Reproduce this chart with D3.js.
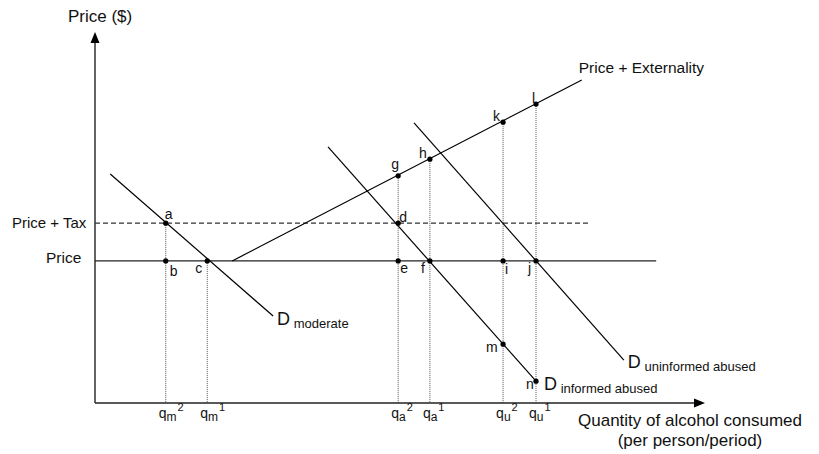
<!DOCTYPE html>
<html>
<head>
<meta charset="utf-8">
<script src="https://cdn.jsdelivr.net/npm/d3@7"></script>
<style>
body { margin:0; background:#fff; }
text { font-family: "Liberation Sans", Arial, sans-serif; fill:#111; }
</style>
</head>
<body>
<svg id="chart"></svg>
<script>
// price levels (arbitrary units)
var priceLevel = 3.84
var taxLevel = 4.86

// lines: [q, p] end points
var priceLine = [[0, 3.84], [9.2, 3.84]]
var taxLine = [[0, 4.86], [8.11, 4.86]]
var externalityLine = [[2.25, 3.84], [7.98, 8.73]]
var dModerate = [[0.25, 6.19], [2.92, 2.35]]
var dInformed = [[3.82, 6.92], [7.23, 0.59]]
var dUninformed = [[5.23, 7.57], [8.67, 1.16]]

// labelled points
var pointNames = ["a","b","c","d","e","f","g","h","i","j","k","l","m","n"]
var pointQ =     [1.16,1.16,1.84,4.97,4.97,5.49,4.97,5.49,6.69,7.23,6.69,7.23,6.69,7.23]
var pointP =     [4.86,3.84,3.84,4.86,3.84,3.84,6.14,6.59,3.84,3.84,7.59,8.08,1.59,0.59]

// dotted drop lines: q and top p
var dropQ = [1.16, 1.84, 4.97, 5.49, 6.69, 7.23]
var dropTop = [4.86, 3.84, 6.14, 6.59, 7.59, 8.08]

// quantity tick labels
var tickQ = [1.16, 1.84, 4.97, 5.49, 6.69, 7.23]
var tickSub = ["m","m","a","a","u","u"]
var tickSup = ["2","1","2","1","2","1"]

var svgw = 819
var svgh = 454

var svg = d3.select("#chart")
    .attr("width", svgw)
    .attr("height", svgh)

var xscale = d3.scaleLinear().domain([0,10]).range([95,705])
var yscale = d3.scaleLinear().domain([0,10]).range([403,33])

var line = d3.line()
    .x(function(d){return xscale(d[0])})
    .y(function(d){return yscale(d[1])})

// dotted verticals
svg.append("g").selectAll("line")
    .data(dropQ)
    .enter()
    .append("line")
    .attr("x1", function(d){return xscale(d)})
    .attr("x2", function(d){return xscale(d)})
    .attr("y1", function(d,i){return yscale(dropTop[i])})
    .attr("y2", yscale(0))
    .attr("stroke", "#555")
    .attr("stroke-width", 1)
    .attr("stroke-dasharray", "1,1")

// axes
var axisColor = "#222"
svg.append("line")
    .attr("x1", xscale(0)).attr("x2", xscale(0))
    .attr("y1", yscale(0)).attr("y2", yscale(10) + 8)
    .attr("stroke", axisColor).attr("stroke-width", 1.4)
svg.append("line")
    .attr("x1", xscale(0)).attr("x2", xscale(10) - 8)
    .attr("y1", yscale(0)).attr("y2", yscale(0))
    .attr("stroke", axisColor).attr("stroke-width", 1.4)
// arrow heads
var yt = [xscale(0), yscale(10)]
svg.append("path")
    .attr("d", "M" + yt[0] + "," + (yt[1] - 1) + "L" + (yt[0] - 4.5) + "," + (yt[1] + 10) + "L" + (yt[0] + 4.5) + "," + (yt[1] + 10) + "Z")
    .attr("fill", "#000")
var xt = [xscale(10), yscale(0)]
svg.append("path")
    .attr("d", "M" + xt[0] + "," + xt[1] + "L" + (xt[0] - 11) + "," + (xt[1] - 4.5) + "L" + (xt[0] - 11) + "," + (xt[1] + 4.5) + "Z")
    .attr("fill", "#000")

// price, tax lines
svg.append("path").attr("d", line(priceLine))
    .attr("stroke", "#222").attr("stroke-width", 1.3).attr("fill", "none")
svg.append("path").attr("d", line(taxLine))
    .attr("stroke", "#333").attr("stroke-width", 1.2).attr("fill", "none")
    .attr("stroke-dasharray", "5,3")

// other lines
var curves = [externalityLine, dModerate, dInformed, dUninformed]
svg.append("g").selectAll("path")
    .data(curves)
    .enter()
    .append("path")
    .attr("d", function(d){return line(d)})
    .attr("stroke", "#000")
    .attr("stroke-width", 1.2)
    .attr("fill", "none")

// points
svg.append("g").selectAll("circle")
    .data(pointNames)
    .enter()
    .append("circle")
    .attr("cx", function(d,i){return xscale(pointQ[i])})
    .attr("cy", function(d,i){return yscale(pointP[i])})
    .attr("r", 2.6)
    .attr("fill", "#000")

var offsets = {
    a:[-1,-4], b:[4,15], c:[-12,12], d:[1,-1], e:[2,12], f:[-9,12], g:[-7,-7],
    h:[-11,-1], i:[2,13], j:[-8,12], k:[-10,-1], l:[-4,-1], m:[-17,8], n:[-10,8]
}
svg.append("g").selectAll("text")
    .data(pointNames)
    .enter()
    .append("text")
    .text(function(d){return d})
    .attr("x", function(d,i){return xscale(pointQ[i]) + offsets[d][0]})
    .attr("y", function(d,i){return yscale(pointP[i]) + offsets[d][1]})
    .style("font-size", "14px")

// demand labels
var dLabel = function(pt, dx, dy, sub)
{
    var t = svg.append("text")
        .attr("x", xscale(pt[0]) + dx)
        .attr("y", yscale(pt[1]) + dy)
    t.append("tspan").text("D").style("font-size", "18px")
    t.append("tspan").text(" " + sub).style("font-size", "13px").attr("dy", 3)
}
dLabel(dModerate[1], 4, 9, "moderate")
dLabel(dUninformed[1], 4, 8, "uninformed abused")
dLabel(dInformed[1], 8, 9, "informed abused")

// tick labels
var ticks = svg.append("g").selectAll("text")
    .data(tickQ)
    .enter()
    .append("text")
    .attr("x", function(d){return xscale(d) - 7})
    .attr("y", yscale(0) + 15)
ticks.append("tspan").text("q").style("font-size", "14px")
ticks.append("tspan").text(function(d,i){return tickSub[i]}).style("font-size", "12px").attr("dy", 3)
ticks.append("tspan").text(function(d,i){return tickSup[i]}).style("font-size", "11px").attr("dy", -10).attr("dx", 1)

// axis & level labels
svg.append("text").text("Price ($)")
    .attr("x", xscale(0) - 27).attr("y", 22).style("font-size", "17px")
svg.append("text").text("Price + Tax")
    .attr("x", xscale(0) - 83).attr("y", yscale(taxLevel) + 5).style("font-size", "15px")
svg.append("text").text("Price")
    .attr("x", xscale(0) - 49).attr("y", yscale(priceLevel) + 2).style("font-size", "15.5px")
svg.append("text").text("Price + Externality")
    .attr("x", xscale(externalityLine[1][0]) - 3).attr("y", yscale(externalityLine[1][1]) - 7)
    .style("font-size", "15.5px")
svg.append("text").text("Quantity of alcohol consumed")
    .attr("x", 690).attr("y", 426).attr("text-anchor", "middle").style("font-size", "17px")
svg.append("text").text("(per person/period)")
    .attr("x", 690).attr("y", 446).attr("text-anchor", "middle").style("font-size", "17px")
</script>
</body>
</html>
